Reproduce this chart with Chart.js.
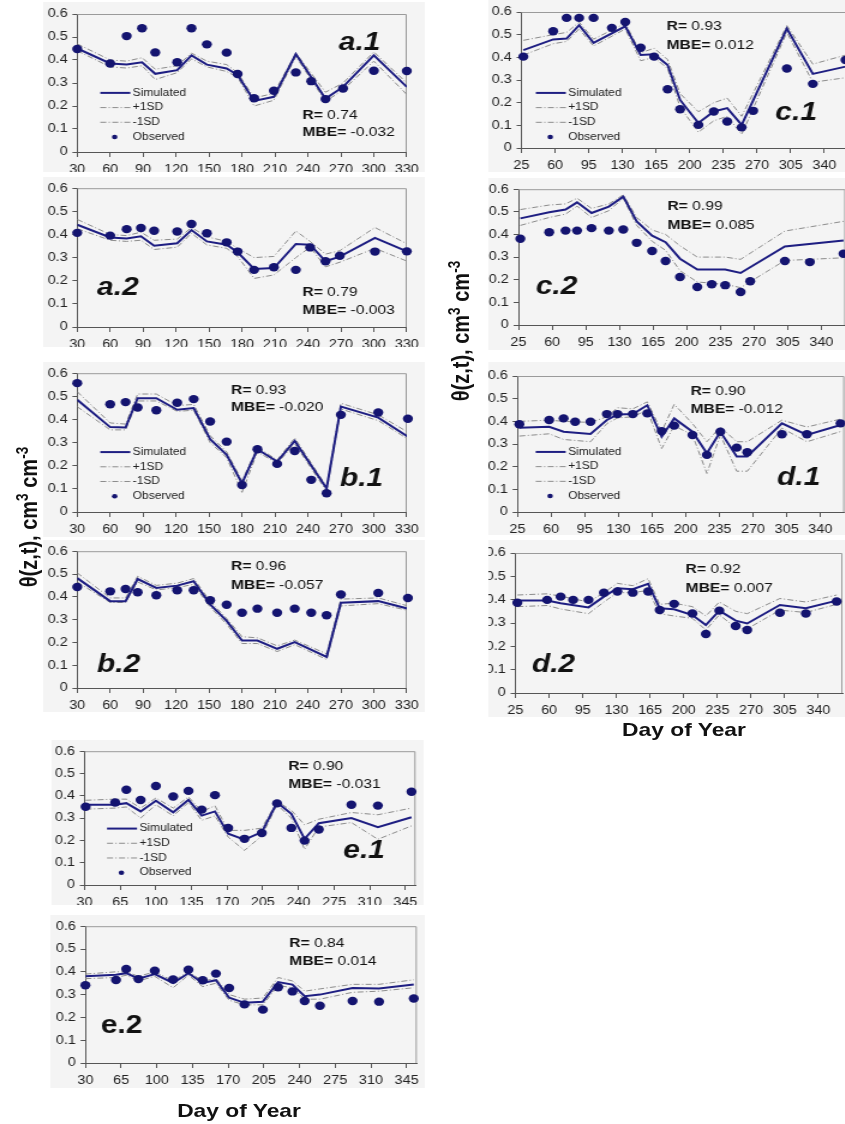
<!DOCTYPE html>
<html>
<head>
<meta charset="utf-8">
<title>Soil moisture, simulated vs observed</title>
<script src="https://cdn.jsdelivr.net/npm/chart.js@4.4.1/dist/chart.umd.min.js"></script>
<style>
html, body { margin: 0; padding: 0; background: #fff; overflow: hidden; }
#page { position: relative; width: 704px; height: 1124px; overflow: hidden;
        transform: scaleX(1.2); transform-origin: 0 0;
        font-family: "Liberation Sans", Arial, sans-serif; }
#page canvas { position: absolute; z-index: 1; }
.title { position: absolute; z-index: 2; font-weight: bold; color: #111; white-space: nowrap; line-height: 1; }
.ytitle { font-size: 20px; transform: translate(-50%, -50%) rotate(-90deg); }
.xtitle { font-size: 19px; transform: translate(-50%, -50%); }
.title sup { font-size: 0.68em; }
</style>
</head>
<body>
<div id="page">
  <div class="title ytitle" style="left:22.5px; top:517px;">θ(z,t), cm<sup>3</sup> cm<sup>-3</sup></div>
  <div class="title ytitle" style="left:383.3px; top:331px;">θ(z,t), cm<sup>3</sup> cm<sup>-3</sup></div>
  <div class="title xtitle" style="left:199.2px; top:1110px;">Day of Year</div>
  <div class="title xtitle" style="left:570px; top:729px;">Day of Year</div>
</div>
<script>
'use strict';

// ---- tick labels ----
var ticksAB = [30, 60, 90, 120, 150, 180, 210, 240, 270, 300, 330];
var ticksCD = [25, 60, 95, 130, 165, 200, 235, 270, 305, 340];
var ticksE = [30, 65, 100, 135, 170, 205, 240, 275, 310, 345];
var yTicks = [0, 0.1, 0.2, 0.3, 0.4, 0.5, 0.6];
var legendNames = ['Simulated', '+1SD', '-1SD', 'Observed'];

// ---- a.1 ----
var a1Days = [30, 60, 75, 89, 101, 121, 134, 148, 166, 176, 191, 209, 229, 243, 256, 272, 300, 330];
var a1Sim = [0.450, 0.385, 0.380, 0.390, 0.340, 0.356, 0.420, 0.380, 0.363, 0.335, 0.222, 0.240, 0.426, null, 0.232, 0.283, 0.420, 0.283];
var a1Plus = [0.470, 0.400, 0.395, 0.410, 0.360, 0.375, 0.430, 0.395, 0.380, 0.345, 0.235, 0.255, 0.430, null, 0.260, 0.300, 0.435, 0.300];
var a1Minus = [0.440, 0.370, 0.365, 0.375, 0.315, 0.345, 0.405, 0.370, 0.350, 0.325, 0.200, 0.225, 0.415, null, 0.220, 0.270, 0.395, 0.250];
var a1Obs = [0.448, 0.385, 0.504, 0.538, 0.433, 0.390, 0.538, 0.468, 0.432, 0.339, 0.234, 0.266, 0.346, 0.308, 0.230, 0.276, 0.353, 0.352];

// ---- a.2 ----
var a2Days = [30, 60, 75, 88, 100, 121, 134, 148, 166, 176, 191, 209, 229, 242, 256, 269, 301, 330];
var a2Sim = [0.442, 0.387, 0.383, 0.392, 0.351, 0.362, 0.419, 0.370, 0.356, 0.323, 0.251, 0.255, 0.359, 0.356, 0.284, 0.304, 0.385, 0.327];
var a2Plus = [0.465, 0.400, 0.395, 0.410, 0.375, 0.380, 0.430, 0.390, 0.370, 0.340, 0.300, 0.305, 0.415, 0.370, 0.315, 0.330, 0.430, 0.360];
var a2Minus = [0.425, 0.375, 0.370, 0.375, 0.335, 0.345, 0.405, 0.355, 0.340, 0.305, 0.210, 0.225, 0.300, 0.345, 0.260, 0.280, 0.340, 0.285];
var a2Obs = [0.407, 0.395, 0.423, 0.428, 0.416, 0.413, 0.445, 0.405, 0.366, 0.326, 0.247, 0.258, 0.247, 0.344, 0.284, 0.308, 0.326, 0.327];

// ---- b.1 ----
var b1Days = [30, 60, 74, 85, 102, 121, 136, 151, 166, 180, 194, 212, 228, 243, 257, 270, 304, 331];
var b1Sim = [0.485, 0.367, 0.365, 0.492, 0.492, 0.442, 0.449, 0.315, 0.247, 0.124, 0.271, 0.218, 0.307, null, 0.102, 0.456, 0.408, 0.326];
var b1Plus = [0.520, 0.385, 0.380, 0.510, 0.510, 0.460, 0.465, 0.330, 0.260, 0.135, 0.280, 0.225, 0.320, null, 0.110, 0.470, 0.420, 0.345];
var b1Minus = [0.455, 0.355, 0.355, 0.480, 0.480, 0.435, 0.440, 0.300, 0.235, 0.085, 0.260, 0.210, 0.295, null, 0.090, 0.445, 0.395, 0.315];
var b1Obs = [0.557, 0.466, 0.475, 0.452, 0.440, 0.472, 0.488, 0.391, 0.304, 0.117, 0.271, 0.208, 0.264, 0.139, 0.081, 0.420, 0.430, 0.403];

// ---- b.2 ----
var b2Days = [30, 60, 74, 85, 102, 121, 136, 151, 166, 180, 194, 212, 228, 243, 257, 270, 304, 331];
var b2Sim = [0.482, 0.381, 0.381, 0.478, 0.439, 0.449, 0.468, 0.367, 0.294, 0.208, 0.208, 0.172, 0.201, null, 0.136, 0.374, 0.381, 0.348];
var b2Plus = [0.505, 0.395, 0.395, 0.490, 0.450, 0.460, 0.480, 0.380, 0.305, 0.225, 0.220, 0.185, 0.210, null, 0.150, 0.390, 0.395, 0.360];
var b2Minus = [0.465, 0.375, 0.375, 0.465, 0.430, 0.440, 0.455, 0.355, 0.280, 0.195, 0.195, 0.160, 0.190, null, 0.125, 0.360, 0.370, 0.340];
var b2Obs = [0.443, 0.424, 0.434, 0.420, 0.407, 0.429, 0.429, 0.385, 0.365, 0.330, 0.348, 0.330, 0.348, 0.330, 0.319, 0.410, 0.417, 0.395];

// ---- c.1 ----
var c1Days = [27, 58, 72, 85, 100, 119, 133, 149, 163, 177, 190, 209, 225, 239, 254, 266, 301, 328, 362];
var c1Sim = [0.432, 0.479, 0.483, 0.542, 0.464, null, 0.537, 0.410, 0.414, 0.366, 0.212, 0.110, 0.161, 0.176, 0.102, null, 0.527, 0.327, 0.359];
var c1Plus = [0.475, 0.500, 0.510, 0.555, 0.480, null, 0.550, 0.420, 0.440, 0.390, 0.240, 0.160, 0.200, 0.220, 0.140, null, 0.540, 0.370, 0.410];
var c1Minus = [0.410, 0.460, 0.470, 0.525, 0.450, null, 0.525, 0.385, 0.400, 0.350, 0.180, 0.070, 0.120, 0.140, 0.060, null, 0.510, 0.290, 0.310];
var c1Obs = [0.403, 0.515, 0.574, 0.574, 0.574, 0.530, 0.556, 0.442, 0.403, 0.259, 0.171, 0.102, 0.161, 0.117, 0.091, 0.164, 0.351, 0.283, 0.388];

// ---- c.2 ----
var c2Days = [27, 57, 74, 86, 101, 119, 134, 148, 164, 178, 193, 211, 226, 240, 256, 266, 302, 328, 363];
var c2Sim = [0.471, 0.498, 0.510, 0.542, 0.495, 0.523, 0.567, 0.458, 0.395, 0.366, 0.293, 0.245, null, 0.245, 0.230, null, 0.347, null, 0.373];
var c2Plus = [0.510, 0.530, 0.535, 0.560, 0.515, 0.535, 0.575, 0.475, 0.420, 0.400, 0.350, 0.300, null, 0.300, 0.290, null, 0.415, null, 0.458];
var c2Minus = [0.440, 0.475, 0.490, 0.525, 0.475, 0.505, 0.560, 0.440, 0.370, 0.330, 0.240, 0.190, null, 0.180, 0.165, null, 0.285, 0.290, 0.297];
var c2Obs = [0.381, 0.410, 0.417, 0.417, 0.428, 0.417, 0.422, 0.363, 0.327, 0.283, 0.212, 0.168, 0.180, 0.176, 0.146, 0.193, 0.283, 0.278, 0.315];

// ---- d.1 ----
var d1Days = [27, 58, 73, 85, 101, 118, 129, 145, 160, 175, 188, 207, 222, 236, 253, 264, 300, 326, 361];
var d1Sim = [0.372, 0.376, 0.354, null, 0.344, 0.406, 0.430, 0.432, 0.471, 0.332, 0.413, 0.354, 0.259, 0.354, 0.245, 0.245, 0.391, 0.340, 0.384];
var d1Plus = [0.400, 0.405, 0.400, null, 0.395, 0.420, 0.460, 0.455, 0.486, 0.355, 0.475, 0.390, 0.310, 0.375, 0.310, 0.310, 0.405, 0.375, 0.410];
var d1Minus = [0.335, 0.345, 0.320, null, 0.310, 0.390, 0.415, 0.420, 0.450, 0.280, 0.380, 0.340, 0.170, 0.340, 0.180, 0.180, 0.370, 0.310, 0.355];
var d1Obs = [0.387, 0.406, 0.413, 0.398, 0.398, 0.432, 0.432, 0.432, 0.435, 0.357, 0.381, 0.340, 0.252, 0.354, 0.284, 0.264, 0.343, 0.343, 0.391];

// ---- d.2 ----
var d2Days = [27, 58, 72, 85, 101, 117, 131, 147, 163, 175, 190, 209, 223, 237, 254, 266, 300, 327, 359];
var d2Sim = [0.396, 0.396, 0.385, null, 0.367, 0.413, 0.449, 0.445, 0.468, 0.363, 0.359, 0.334, 0.291, 0.353, 0.310, 0.298, 0.377, 0.363, 0.396];
var d2Plus = [0.420, 0.425, 0.415, null, 0.390, 0.430, 0.470, 0.460, 0.490, 0.380, 0.385, 0.370, 0.330, 0.390, 0.350, 0.340, 0.405, 0.390, 0.420];
var d2Minus = [0.370, 0.375, 0.360, null, 0.340, 0.390, 0.430, 0.430, 0.440, 0.340, 0.330, 0.320, 0.270, 0.335, 0.280, 0.275, 0.355, 0.345, 0.380];
var d2Obs = [0.387, 0.399, 0.413, 0.399, 0.399, 0.430, 0.435, 0.430, 0.435, 0.356, 0.382, 0.341, 0.253, 0.353, 0.287, 0.270, 0.344, 0.341, 0.392];

// ---- e.1 ----
var e1Days = [31, 60, 71, 85, 100, 117, 132, 145, 158, 171, 187, 204, 219, 233, 246, 260, 292, 318, 351];
var e1Sim = [0.360, 0.360, 0.367, 0.330, 0.378, 0.326, 0.382, 0.311, 0.330, 0.230, 0.203, 0.237, 0.370, 0.319, 0.207, 0.277, 0.300, 0.259, 0.304];
var e1Plus = [0.380, 0.385, 0.385, 0.345, 0.390, 0.345, 0.395, 0.330, 0.355, 0.245, 0.245, 0.255, 0.375, 0.335, 0.270, 0.295, 0.325, 0.315, 0.345];
var e1Minus = [0.340, 0.345, 0.350, 0.300, 0.360, 0.310, 0.370, 0.290, 0.310, 0.215, 0.155, 0.220, 0.360, 0.300, 0.160, 0.260, 0.280, 0.205, 0.265];
var e1Obs = [0.351, 0.370, 0.427, 0.381, 0.444, 0.397, 0.422, 0.338, 0.403, 0.256, 0.207, 0.233, 0.366, 0.256, 0.199, 0.249, 0.360, 0.356, 0.418];

// ---- e.2 ----
var e2Days = [30, 60, 70, 82, 98, 116, 131, 145, 158, 171, 186, 204, 219, 233, 245, 260, 292, 318, 352];
var e2Sim = [0.380, 0.387, 0.394, 0.370, 0.390, 0.351, 0.394, 0.351, 0.363, 0.286, 0.264, 0.269, 0.355, 0.344, 0.293, 0.300, 0.329, 0.327, 0.344];
var e2Plus = [0.390, 0.400, 0.400, 0.380, 0.400, 0.360, 0.400, 0.360, 0.370, 0.300, 0.280, 0.285, 0.375, 0.360, 0.315, 0.325, 0.345, 0.345, 0.365];
var e2Minus = [0.370, 0.375, 0.385, 0.360, 0.380, 0.330, 0.385, 0.335, 0.350, 0.275, 0.255, 0.255, 0.340, 0.330, 0.280, 0.280, 0.310, 0.315, 0.330];
var e2Obs = [0.341, 0.364, 0.412, 0.368, 0.405, 0.366, 0.409, 0.363, 0.392, 0.329, 0.257, 0.234, 0.332, 0.314, 0.272, 0.251, 0.272, 0.269, 0.283];

var S = 1.2;            // the whole page is stretched horizontally like the source figure
var NAVY = '#1e1e82';
var DOT = '#141470';
var SD_GREY = '#8c8c8c';
var FONT = '"Liberation Sans", Arial, sans-serif';

Chart.defaults.font.family = FONT;

var panels = [
    {box: [43, 2, 424, 172], plot: [77, 14, 409, 152], xr: [30, 330], ticks: ticksAB,
     days: a1Days, sim: a1Sim, plus: a1Plus, minus: a1Minus, obs: a1Obs,
     r: '0.74', mbe: '-0.032', statAt: [235, 0.161, 0.083], label: 'a.1', labelAt: [268, 0.443], italic: true, legendAt: [51, 0.257]},
    {box: [43, 177, 424, 347], plot: [77, 187, 409, 327], xr: [30, 330], ticks: ticksAB,
     days: a2Days, sim: a2Sim, plus: a2Plus, minus: a2Minus, obs: a2Obs,
     r: '0.79', mbe: '-0.003', statAt: [235, 0.151, 0.070], label: 'a.2', labelAt: [48, 0.137], italic: true},
    {box: [43, 362, 424, 537], plot: [77, 373, 409, 512], xr: [30, 330], ticks: ticksAB,
     days: b1Days, sim: b1Sim, plus: b1Plus, minus: b1Minus, obs: b1Obs,
     r: '0.93', mbe: '-0.020', statAt: [170, 0.527, 0.450], label: 'b.1', labelAt: [269, 0.112], italic: true, legendAt: [51, 0.259]},
    {box: [43, 540, 424, 712], plot: [77, 549, 409, 688], xr: [30, 330], ticks: ticksAB,
     days: b2Days, sim: b2Sim, plus: b2Plus, minus: b2Minus, obs: b2Obs,
     r: '0.96', mbe: '-0.057', statAt: [170, 0.535, 0.452], label: 'b.2', labelAt: [48, 0.070], italic: true},
    {box: [52, 740, 424, 905], plot: [85, 750, 416, 885], xr: [30, 355], ticks: ticksE,
     days: e1Days, sim: e1Sim, plus: e1Plus, minus: e1Minus, obs: e1Obs,
     r: '0.90', mbe: '-0.031', statAt: [230, 0.533, 0.449], label: 'e.1', labelAt: [284, 0.119], italic: true, legendAt: [52, 0.253]},
    {box: [50, 915, 424, 1088], plot: [85, 924, 418, 1063], xr: [30, 355], ticks: ticksE,
     days: e2Days, sim: e2Sim, plus: e2Plus, minus: e2Minus, obs: e2Obs,
     r: '0.84', mbe: '0.014', statAt: [230, 0.524, 0.445], label: 'e.2', labelAt: [45, 0.131], italic: false},
    {box: [488, 0, 860, 172], plot: [521, 12, 848, 148], xr: [25, 365], ticks: ticksCD,
     days: c1Days, sim: c1Sim, plus: c1Plus, minus: c1Minus, obs: c1Obs,
     r: '0.93', mbe: '0.012', statAt: [176, 0.535, 0.454], label: 'c.1', labelAt: [289, 0.124], italic: true, legendAt: [40, 0.243]},
    {box: [488, 178, 860, 350], plot: [518, 188, 845, 325], xr: [25, 365], ticks: ticksCD,
     days: c2Days, sim: c2Sim, plus: c2Plus, minus: c2Minus, obs: c2Obs,
     r: '0.99', mbe: '0.085', statAt: [180, 0.526, 0.442], label: 'c.2', labelAt: [43, 0.136], italic: true},
    {box: [488, 362, 860, 535], plot: [517, 376, 844, 512], xr: [25, 365], ticks: ticksCD,
     days: d1Days, sim: d1Sim, plus: d1Plus, minus: d1Minus, obs: d1Obs,
     r: '0.90', mbe: '-0.012', statAt: [205, 0.534, 0.454], label: 'd.1', labelAt: [295, 0.119], italic: true, legendAt: [44, 0.265]},
    {box: [488, 540, 860, 717], plot: [515, 553, 842, 693], xr: [25, 365], ticks: ticksCD,
     days: d2Days, sim: d2Sim, plus: d2Plus, minus: d2Minus, obs: d2Obs,
     r: '0.92', mbe: '0.007', statAt: [202, 0.530, 0.449], label: 'd.2', labelAt: [42, 0.091], italic: true}
];

var panelFrame = {
    id: 'panelFrame',
    beforeDraw: function(chart) {
        var ctx = chart.ctx;
        ctx.save();
        ctx.fillStyle = '#f4f4f4';
        ctx.fillRect(0, 0, chart.width, chart.height);
        ctx.restore();
    },
    beforeDatasetsDraw: function(chart) {
        var a = chart.chartArea, ctx = chart.ctx;
        ctx.save();
        ctx.strokeStyle = '#9a9a9a';
        ctx.lineWidth = 1;
        ctx.beginPath();
        ctx.moveTo(a.left, a.top + 0.5);
        ctx.lineTo(a.right - 0.5, a.top + 0.5);
        ctx.lineTo(a.right - 0.5, a.bottom);
        ctx.stroke();
        ctx.restore();
    }
};

var panelText = {
    id: 'panelText',
    afterDatasetsDraw: function(chart, args, o) {
        var ctx = chart.ctx, xs = chart.scales.x, ys = chart.scales.y;
        ctx.save();
        ctx.fillStyle = '#111';
        ctx.textBaseline = 'middle';
        var sx = xs.getPixelForValue(o.statAt[0]);
        [['R=', o.r, o.statAt[1]], ['MBE=', o.mbe, o.statAt[2]]].forEach(function(row) {
            var y = ys.getPixelForValue(row[2]);
            ctx.font = 'bold 13px ' + FONT;
            ctx.fillText(row[0], sx, y);
            var w = ctx.measureText(row[0]).width;
            ctx.font = '13px ' + FONT;
            ctx.fillText(' ' + row[1], sx + w, y);
        });

        ctx.textBaseline = 'alphabetic';
        ctx.font = (o.italic ? 'italic ' : '') + 'bold 25px ' + FONT;
        ctx.fillText(o.label, xs.getPixelForValue(o.labelAt[0]), ys.getPixelForValue(o.labelAt[1]));

        if (o.legendAt) {
            var lx = xs.getPixelForValue(o.legendAt[0]);
            var ly = ys.getPixelForValue(o.legendAt[1]);
            for (var i = 0; i < legendNames.length; i++) {
                var y = ly + i * 14.7;
                ctx.save();
                if (i < 3) {
                    ctx.beginPath();
                    ctx.moveTo(lx, y);
                    ctx.lineTo(lx + 25, y);
                    ctx.strokeStyle = i === 0 ? NAVY : SD_GREY;
                    ctx.lineWidth = i === 0 ? 2 : 1;
                    ctx.setLineDash(i === 0 ? [] : [5, 2, 1, 2]);
                    ctx.stroke();
                } else {
                    ctx.beginPath();
                    ctx.arc(lx + 12, y, 2.3, 0, Math.PI * 2);
                    ctx.fillStyle = DOT;
                    ctx.fill();
                }
                ctx.restore();
                ctx.font = '10px ' + FONT;
                ctx.fillStyle = '#222';
                ctx.textBaseline = 'middle';
                ctx.fillText(legendNames[i], lx + 27, y);
            }
        }
        ctx.restore();
    }
};

function pts(days, vals) {
    var out = [];
    for (var i = 0; i < days.length; i++) {
        out.push({x: days[i], y: vals[i]});
    }
    return out;
}

function sdLine(days, vals) {
    return {
        data: pts(days, vals),
        showLine: true,
        spanGaps: true,
        borderColor: SD_GREY,
        borderWidth: 1,
        borderDash: [5, 2, 1, 2],
        pointRadius: 0
    };
}

function buildPanel(p) {
    var L = p.box[0], T = p.box[1], R = p.box[2], B = p.box[3];
    var w = Math.round((R - L) / S), h = B - T;
    var canvas = document.createElement('canvas');
    canvas.width = w;
    canvas.height = h;
    canvas.style.left = (L / S) + 'px';
    canvas.style.top = T + 'px';
    canvas.style.width = w + 'px';
    canvas.style.height = h + 'px';
    document.getElementById('page').appendChild(canvas);

    var yW = (p.plot[0] - L) / S;
    var padR = w - (p.plot[2] - L) / S;
    var padT = p.plot[1] - T;
    var xH = B - p.plot[3];

    return new Chart(canvas.getContext('2d'), {
        type: 'scatter',
        data: {
            datasets: [
                {
                    data: pts(p.days, p.obs),
                    showLine: false,
                    pointRadius: 4.2,
                    pointBackgroundColor: DOT,
                    pointBorderWidth: 0,
                    clip: false
                },
                {
                    data: pts(p.days, p.sim),
                    showLine: true,
                    spanGaps: true,
                    borderColor: NAVY,
                    borderWidth: 2,
                    pointRadius: 0
                },
                sdLine(p.days, p.plus),
                sdLine(p.days, p.minus)
            ]
        },
        options: {
            responsive: false,
            animation: false,
            events: [],
            layout: {
                autoPadding: false,
                padding: {left: 0, top: padT, right: padR, bottom: 0}
            },
            scales: {
                x: {
                    type: 'linear',
                    min: p.xr[0],
                    max: p.xr[1],
                    afterFit: function(scale) { scale.height = xH; },
                    afterBuildTicks: function(scale) {
                        scale.ticks = p.ticks.map(function(v) { return {value: v}; });
                    },
                    grid: {drawOnChartArea: false, tickLength: 5, color: '#555'},
                    border: {color: '#555'},
                    ticks: {autoSkip: false, maxRotation: 0, padding: 5, color: '#222', font: {size: 12}}
                },
                y: {
                    min: 0,
                    max: 0.6,
                    afterFit: function(scale) { scale.width = yW; },
                    afterBuildTicks: function(scale) {
                        scale.ticks = yTicks.map(function(v) { return {value: v}; });
                    },
                    grid: {drawOnChartArea: false, tickLength: 4, color: '#555'},
                    border: {color: '#555'},
                    ticks: {
                        padding: 4,
                        color: '#222',
                        font: {size: 12},
                        callback: function(v) { return v === 0 ? '0' : v.toFixed(1); }
                    }
                }
            },
            plugins: {
                legend: {display: false},
                tooltip: {enabled: false},
                panelText: {
                    r: p.r, mbe: p.mbe, statAt: p.statAt,
                    label: p.label, labelAt: p.labelAt, italic: p.italic,
                    legendAt: p.legendAt
                }
            }
        },
        plugins: [panelFrame, panelText]
    });
}

panels.forEach(buildPanel);
</script>
</body>
</html>
